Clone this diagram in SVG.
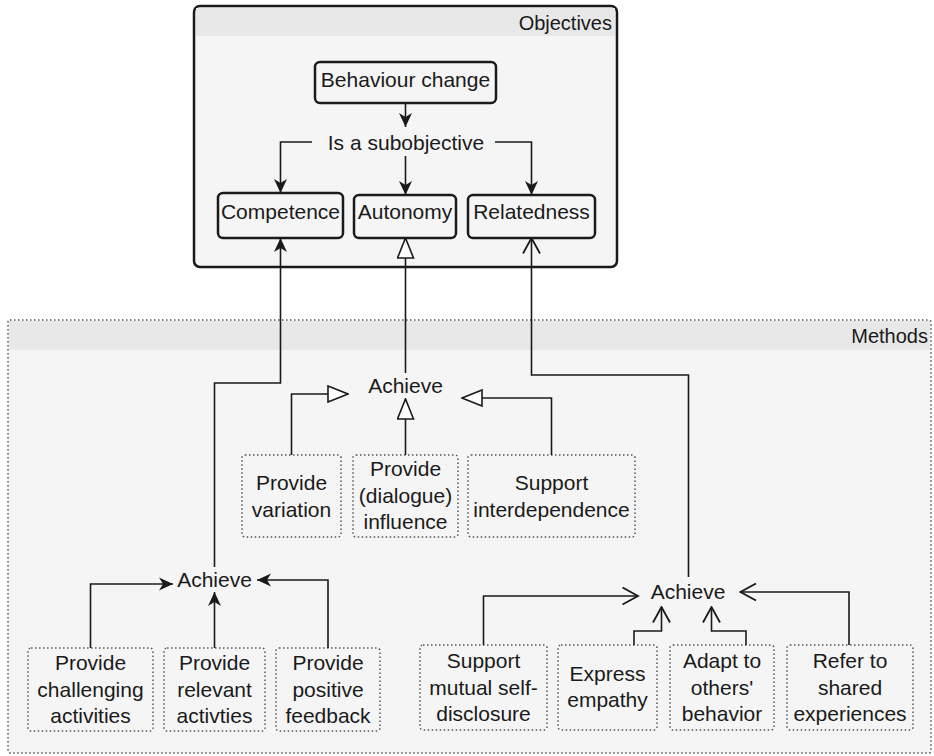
<svg xmlns="http://www.w3.org/2000/svg" width="934" height="756" viewBox="0 0 934 756">
<style>
text{font-family:"Liberation Sans",Arial,sans-serif;fill:#1a1a1a;}
.t{font-size:21px;text-anchor:middle;}
.title{font-size:20px;text-anchor:end;}
.obj{fill:#f5f5f5;stroke:#1a1a1a;stroke-width:2.5;}
.dot{fill:#f5f5f5;stroke:#555;stroke-width:1.5;stroke-dasharray:1.5 2.5;}
.hdr{fill:#e8e8e8;stroke:none;}
.c{fill:none;stroke:#1a1a1a;stroke-width:1.6;}
.fa{marker-end:url(#filled);}
.ha{marker-end:url(#hollow);}
.oa{marker-end:url(#open);}
</style>
<defs>
<marker id="filled" viewBox="0 0 14 14" refX="14" refY="7" markerWidth="14" markerHeight="14" markerUnits="userSpaceOnUse" orient="auto">
<path d="M0,0.5 L14,7 L0,13.5 L4,7 Z" fill="#1a1a1a"/>
</marker>
<marker id="hollow" viewBox="-1 -1 22 18" refX="20" refY="8" markerWidth="22" markerHeight="18" markerUnits="userSpaceOnUse" orient="auto">
<path d="M0,0 L20,8 L0,16 Z" fill="#fff" stroke="#1a1a1a" stroke-width="1.6"/>
</marker>
<marker id="open" viewBox="-1 -1 18 19" refX="15.5" refY="8.5" markerWidth="18" markerHeight="19" markerUnits="userSpaceOnUse" orient="auto">
<path d="M0,0 L15.5,8.5 L0,17" fill="none" stroke="#1a1a1a" stroke-width="1.8"/>
</marker>
</defs>
<rect width="934" height="756" fill="#fff"/>

<g id="objectives">
<rect class="obj" x="194" y="6" width="423" height="261" rx="6"/>
<path class="hdr" d="M196,8 H615 V36 H196 Z"/>
<text class="title" x="612" y="30">Objectives</text>
</g>

<g id="methods">
<rect class="dot" x="8" y="320" width="923" height="433" rx="2"/>
<rect class="hdr" x="9" y="321" width="921" height="29"/>
<text class="title" x="928" y="343">Methods</text>
</g>

<g id="behaviour-change">
<rect class="obj" x="315" y="62" width="181" height="41" rx="5"/>
<text class="t" x="405.5" y="87">Behaviour change</text>
</g>
<g id="is-a-subobjective">
<text class="t" x="406" y="150">Is a subobjective</text>
</g>
<g id="competence">
<rect class="obj" x="218" y="193" width="125" height="45" rx="5"/>
<text class="t" x="280.5" y="219">Competence</text>
</g>
<g id="autonomy">
<rect class="obj" x="354" y="195" width="102" height="43" rx="5"/>
<text class="t" x="405" y="219">Autonomy</text>
</g>
<g id="relatedness">
<rect class="obj" x="468" y="195" width="127" height="43" rx="5"/>
<text class="t" x="531.5" y="219">Relatedness</text>
</g>

<g id="achieve-autonomy">
<text class="t" x="405.5" y="393">Achieve</text>
</g>
<g id="provide-variation">
<rect class="dot" x="242" y="455" width="99" height="82" rx="3"/>
<text class="t" x="291.5" y="490">Provide</text>
<text class="t" x="291.5" y="517">variation</text>
</g>
<g id="provide-influence">
<rect class="dot" x="353" y="455" width="105" height="82" rx="3"/>
<text class="t" x="405.5" y="476">Provide</text>
<text class="t" x="405.5" y="503">(dialogue)</text>
<text class="t" x="405.5" y="529">influence</text>
</g>
<g id="support-interdependence">
<rect class="dot" x="468" y="455" width="167" height="82" rx="3"/>
<text class="t" x="551.5" y="490">Support</text>
<text class="t" x="551.5" y="517">interdependence</text>
</g>

<g id="achieve-competence">
<text class="t" x="214.5" y="587">Achieve</text>
</g>
<g id="provide-challenging">
<rect class="dot" x="28" y="648" width="125" height="83" rx="3"/>
<text class="t" x="90.5" y="670">Provide</text>
<text class="t" x="90.5" y="697">challenging</text>
<text class="t" x="90.5" y="723">activities</text>
</g>
<g id="provide-relevant">
<rect class="dot" x="164" y="648" width="101" height="83" rx="3"/>
<text class="t" x="214.5" y="670">Provide</text>
<text class="t" x="214.5" y="697">relevant</text>
<text class="t" x="214.5" y="723">activties</text>
</g>
<g id="provide-positive">
<rect class="dot" x="276" y="648" width="104" height="83" rx="3"/>
<text class="t" x="328" y="670">Provide</text>
<text class="t" x="328" y="697">positive</text>
<text class="t" x="328" y="723">feedback</text>
</g>

<g id="achieve-relatedness">
<text class="t" x="688" y="599">Achieve</text>
</g>
<g id="support-mutual">
<rect class="dot" x="420" y="645" width="127" height="85" rx="3"/>
<text class="t" x="483.5" y="668">Support</text>
<text class="t" x="483.5" y="695">mutual self-</text>
<text class="t" x="483.5" y="721">disclosure</text>
</g>
<g id="express-empathy">
<rect class="dot" x="558" y="645" width="99" height="85" rx="3"/>
<text class="t" x="607.5" y="681">Express</text>
<text class="t" x="607.5" y="707">empathy</text>
</g>
<g id="adapt">
<rect class="dot" x="670" y="645" width="104" height="85" rx="3"/>
<text class="t" x="722" y="668">Adapt to</text>
<text class="t" x="722" y="695">others'</text>
<text class="t" x="722" y="721">behavior</text>
</g>
<g id="refer">
<rect class="dot" x="787" y="645" width="126" height="85" rx="3"/>
<text class="t" x="850" y="668">Refer to</text>
<text class="t" x="850" y="695">shared</text>
<text class="t" x="850" y="721">experiences</text>
</g>

<g id="connectors">
<path class="c fa" d="M405.5,103 V127"/>
<path class="c fa" d="M312,142 H280.5 V193"/>
<path class="c fa" d="M405.5,156 V195"/>
<path class="c fa" d="M495,142 H531.5 V195"/>
<path class="c fa" d="M214.5,567 V383 H280.5 V238"/>
<path class="c ha" d="M405.5,373 V238"/>
<path class="c oa" d="M688.5,577 V375 H531.5 V238"/>
<path class="c ha" d="M291.5,455 V394 H348"/>
<path class="c ha" d="M405.5,455 V399"/>
<path class="c ha" d="M551.5,455 V398 H462"/>
<path class="c fa" d="M90.5,648 V584 H173"/>
<path class="c fa" d="M214.5,648 V592"/>
<path class="c fa" d="M328,648 V580 H257"/>
<path class="c oa" d="M483.5,645 V596 H638"/>
<path class="c oa" d="M634,645 V631 H661.5 V607"/>
<path class="c oa" d="M746,645 V631 H711.5 V607"/>
<path class="c oa" d="M849,645 V592 H740.5"/>
</g>
</svg>
